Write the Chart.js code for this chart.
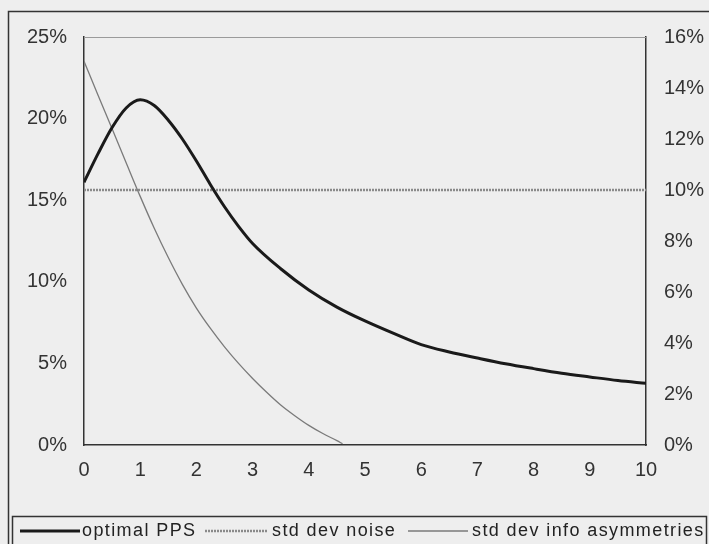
<!DOCTYPE html>
<html>
<head>
<meta charset="utf-8">
<script src="https://cdn.jsdelivr.net/npm/chart.js@4"></script>
<style>
  body { margin: 0; background: #eeeeee; }
  canvas { display: block; }
</style>
</head>
<body>
<canvas id="ppsChart" width="709" height="544"></canvas>
<script>
// values
const ppsX = [0, 0.25, 0.5, 0.75, 1, 1.25, 1.5, 1.75, 2, 2.25, 2.5, 2.75, 3, 3.5, 4, 4.5, 5, 5.5, 6, 6.5, 7, 7.5, 8, 8.5, 9, 9.5, 10];
const optimalPps = [16.1, 17.85, 19.45, 20.65, 21.15, 20.8, 19.9, 18.75, 17.4, 15.95, 14.6, 13.4, 12.35, 10.8, 9.5, 8.45, 7.6, 6.85, 6.15, 5.7, 5.33, 4.98, 4.68, 4.4, 4.17, 3.95, 3.78];

const noiseX = [0, 10];
const stdDevNoise = [10, 10];

const asymX = [0, 0.25, 0.5, 0.75, 1, 1.25, 1.5, 1.75, 2, 2.25, 2.5, 2.75, 3, 3.25, 3.5, 3.75, 4, 4.25, 4.5, 4.6];
const stdDevAsym = [15.05, 13.72, 12.4, 11.07, 9.75, 8.5, 7.35, 6.3, 5.37, 4.57, 3.85, 3.2, 2.61, 2.07, 1.57, 1.15, 0.77, 0.45, 0.17, 0.05];

const xTicks = [0, 1, 2, 3, 4, 5, 6, 7, 8, 9, 10];

const pts = (xs, ys) => xs.map((x, i) => ({ x: x, y: ys[i] }));

const FONT = 'Liberation Sans';

// outer frame, light top edge and legend box
const framePlugin = {
  id: 'frame',
  beforeDraw(chart) {
    const ctx = chart.ctx;
    ctx.save();
    ctx.fillStyle = '#eeeeee';
    ctx.fillRect(0, 0, chart.width, chart.height);
    ctx.strokeStyle = '#333';
    ctx.lineWidth = 1.5;
    ctx.strokeRect(8.5, 11.5, 720, 600);
    ctx.restore();
  },
  afterDraw(chart) {
    const ctx = chart.ctx;
    const a = chart.chartArea;
    ctx.save();
    ctx.strokeStyle = '#9a9a9a';
    ctx.lineWidth = 1;
    ctx.beginPath();
    ctx.moveTo(a.left, a.top + 0.5);
    ctx.lineTo(a.right, a.top + 0.5);
    ctx.stroke();

    // legend
    ctx.strokeStyle = '#333';
    ctx.lineWidth = 1.5;
    ctx.strokeRect(12.5, 516.5, 694, 60);
    const y = 531;
    ctx.font = '18px ' + FONT;
    ctx.fillStyle = '#222';
    ctx.textBaseline = 'middle';
    if ('letterSpacing' in ctx) ctx.letterSpacing = '1.4px';
    const items = [
      { x0: 20, x1: 80, tx: 82, ds: chart.data.datasets[0] },
      { x0: 205, x1: 268, tx: 272, ds: chart.data.datasets[1] },
      { x0: 408, x1: 468, tx: 472, ds: chart.data.datasets[2] }
    ];
    items.forEach(it => {
      ctx.save();
      ctx.strokeStyle = it.ds.borderColor;
      ctx.lineWidth = it.ds.borderWidth;
      ctx.setLineDash(it.ds.borderDash || []);
      ctx.beginPath();
      ctx.moveTo(it.x0, y);
      ctx.lineTo(it.x1, y);
      ctx.stroke();
      ctx.restore();
      ctx.fillText(it.ds.label, it.tx, y);
    });
    ctx.restore();
  }
};

const tickFont = { family: FONT, size: 20 };

const ppsChart = new Chart(document.getElementById('ppsChart').getContext('2d'), {
  type: 'line',
  data: {
    datasets: [{
      label: 'optimal PPS',
      data: pts(ppsX, optimalPps),
      yAxisID: 'y',
      borderColor: '#1a1a1a',
      borderWidth: 3,
      pointRadius: 0,
      cubicInterpolationMode: 'monotone',
      fill: false
    }, {
      label: 'std dev noise',
      data: pts(noiseX, stdDevNoise),
      yAxisID: 'y2',
      borderColor: '#8a8a8a',
      borderWidth: 2.5,
      borderDash: [2, 1],
      pointRadius: 0,
      fill: false
    }, {
      label: 'std dev info asymmetries',
      data: pts(asymX, stdDevAsym),
      yAxisID: 'y2',
      borderColor: '#7a7a7a',
      borderWidth: 1.3,
      pointRadius: 0,
      cubicInterpolationMode: 'monotone',
      fill: false
    }]
  },
  options: {
    responsive: false,
    animation: false,
    layout: { padding: { top: 37, bottom: 54, left: 0, right: 0 } },
    plugins: {
      legend: { display: false },
      tooltip: { enabled: false }
    },
    scales: {
      x: {
        type: 'linear',
        min: 0,
        max: 10,
        afterBuildTicks: (s) => { s.ticks = xTicks.map(v => ({ value: v })); },
        afterFit: (s) => { s.height = 45; },
        ticks: { font: tickFont, color: '#333', padding: 13 },
        grid: { display: false, drawTicks: false },
        border: { display: true, color: '#333', width: 1.5 }
      },
      y: {
        position: 'left',
        min: 0,
        max: 25,
        afterFit: (s) => { s.width = 84; },
        ticks: { stepSize: 5, font: tickFont, color: '#333', padding: 17, callback: v => v + '%' },
        grid: { display: false, drawTicks: false },
        border: { display: true, color: '#333', width: 1.5 }
      },
      y2: {
        position: 'right',
        min: 0,
        max: 16,
        afterFit: (s) => { s.width = 63; },
        ticks: { stepSize: 2, font: tickFont, color: '#333', padding: 18, callback: v => v + '%' },
        grid: { display: false, drawTicks: false },
        border: { display: true, color: '#333', width: 1.5 }
      }
    }
  },
  plugins: [framePlugin]
});
</script>
</body>
</html>
